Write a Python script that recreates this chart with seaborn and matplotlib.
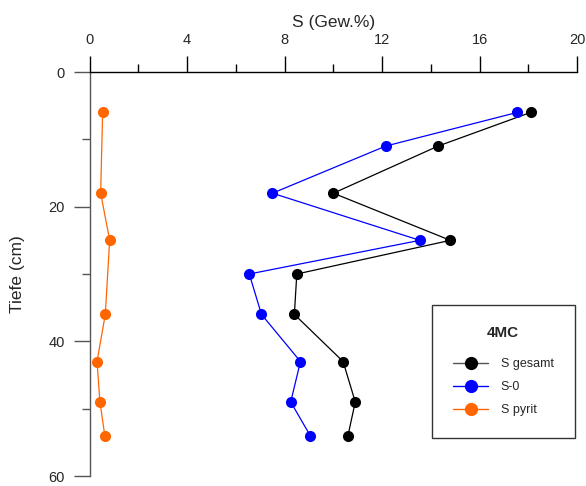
import pandas as pd
import matplotlib
matplotlib.use("Agg")
import matplotlib.pyplot as plt
import seaborn as sns
from matplotlib.ticker import MultipleLocator

# data
depth = [6, 11, 18, 25, 30, 36, 43, 49, 54]
s_gesamt = [18.1, 14.3, 10.0, 14.8, 8.5, 8.4, 10.4, 10.9, 10.6]
s_0 = [17.55, 12.15, 7.5, 13.55, 6.55, 7.05, 8.65, 8.25, 9.05]
depth_pyrit = [6, 18, 25, 36, 43, 49, 54]
s_pyrit = [0.53, 0.45, 0.82, 0.64, 0.30, 0.42, 0.62]

series = ["S gesamt", "S-0", "S pyrit"]
colors = ["#000000", "#0000ff", "#ff6600"]

df = pd.concat([
    pd.DataFrame({"depth": depth, "value": s_gesamt, "series": "S gesamt"}),
    pd.DataFrame({"depth": depth, "value": s_0, "series": "S-0"}),
    pd.DataFrame({"depth": depth_pyrit, "value": s_pyrit, "series": "S pyrit"}),
])

sns.set_style("white")
plt.rcParams["font.family"] = ["Liberation Sans", "DejaVu Sans"]

fig = plt.figure(figsize=(5.86, 4.86), dpi=100)
ax = fig.add_axes([89.7 / 586, 1 - 476 / 486, (577 - 89.7) / 586, 404 / 486])

sns.lineplot(data=df, x="value", y="depth", hue="series", hue_order=series,
             palette=dict(zip(series, colors)), sort=False, estimator=None,
             marker="o", markersize=8, markeredgewidth=0, linewidth=0.9,
             ax=ax, legend=False)

ax.set_xlim(0, 20)
ax.set_ylim(60, 0)
ax.xaxis.tick_top()
ax.xaxis.set_label_position("top")
ax.xaxis.set_major_locator(MultipleLocator(4))
ax.xaxis.set_minor_locator(MultipleLocator(2))
ax.yaxis.set_major_locator(MultipleLocator(20))
ax.yaxis.set_minor_locator(MultipleLocator(10))
ax.tick_params(axis="x", which="major", top=True, bottom=False, direction="out",
               length=11.5, width=1, labelsize=10.5, pad=6.5, color="black")
ax.tick_params(axis="x", which="minor", top=True, bottom=False, direction="out",
               length=5.5, width=1, color="black")
ax.tick_params(axis="y", which="major", left=True, direction="out",
               length=11.5, width=1, labelsize=10.5, pad=6.5, color="#555555")
ax.tick_params(axis="y", which="minor", left=True, direction="out",
               length=5.5, width=1, color="#555555")

for side in ["right", "bottom"]:
    ax.spines[side].set_visible(False)
ax.spines["top"].set_color("black")
ax.spines["top"].set_linewidth(1)
ax.spines["left"].set_color("#555555")
ax.spines["left"].set_linewidth(1)

ax.set_xlabel("S (Gew.%)", fontsize=12.5, labelpad=4)
ax.set_ylabel("Tiefe (cm)", fontsize=12.5, labelpad=17)

handles = [plt.Line2D([], [], color=c, marker="o", markersize=9.5, markeredgewidth=0,
                      linewidth=1) for c in colors]
handles[0].set_color("#555555")
handles[0].set_markerfacecolor("black")
leg = ax.legend(handles, series, title="4MC", loc="upper left",
                bbox_to_anchor=(0.702, 0.423), fontsize=9, title_fontsize=11,
                frameon=True, fancybox=False, edgecolor="black",
                handlelength=2.8, handletextpad=1.0, labelspacing=0.88,
                borderpad=1.7, borderaxespad=0)
leg.get_title().set_fontweight("bold")
leg.get_frame().set_linewidth(1)
leg._legend_box.sep = 13

fig.savefig("out.png", dpi=100)
